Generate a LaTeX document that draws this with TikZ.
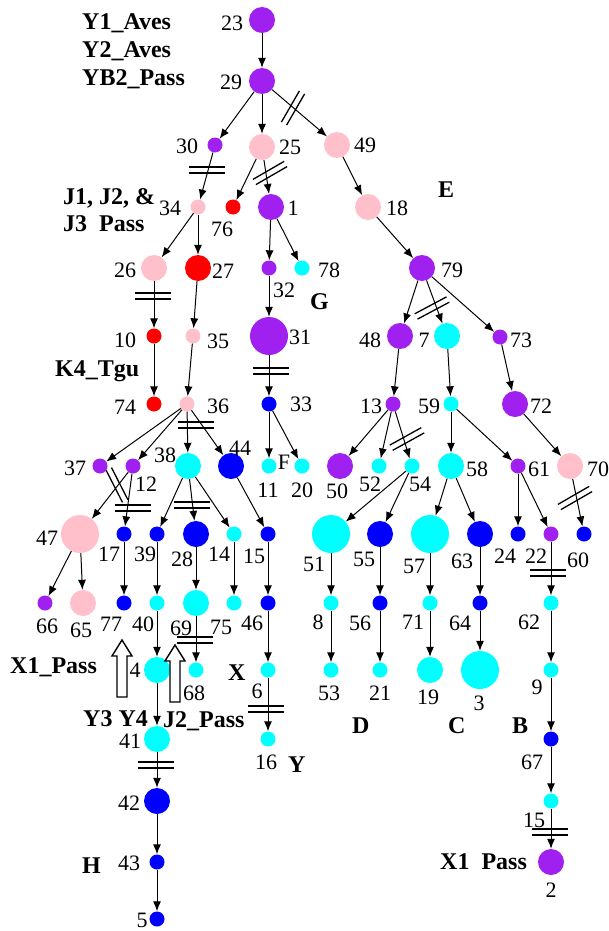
\documentclass[tikz,border=0pt]{standalone}
\usepackage{fontspec}
\setmainfont{Liberation Serif}
\usetikzlibrary{arrows.meta}
\definecolor{mypurple}{HTML}{A020F0}
\definecolor{mypink}{HTML}{FFC0CB}
\definecolor{myred}{HTML}{FF0000}
\definecolor{mycyan}{HTML}{00FFFF}
\definecolor{myblue}{HTML}{0000FF}
\newcommand{\numsize}{\fontsize{22}{24}\selectfont}
\newcommand{\tagsize}{\fontsize{24}{26}\selectfont\bfseries}
\tikzset{
	dot/.style={circle, inner sep=0pt, draw=none},
	sm/.style={dot, minimum size=15pt},
	md/.style={dot, minimum size=26pt},
	lg/.style={dot, minimum size=38pt}
}
\tikzset{
	numtext/.style={font=\numsize, inner sep=0pt},
	tagtext/.style={font=\tagsize, inner sep=0pt, anchor=base west},
	edge/.style={-{Latex[length=10pt,width=8pt]}, line width=1pt},
	barline/.style={line width=1.3pt},
	hollow/.style={line width=1.4pt, fill=white}
}
% double bar across a branch: centre x, centre y, angle
\newcommand{\dbar}[3]{%
  \begin{scope}[shift={(#1,#2)}, rotate=#3]
    \draw[barline] (-18,-3) -- (18,-3) (-18,3) -- (18,3);
  \end{scope}}

\begin{document}
\begin{tikzpicture}[x=1pt, y=-1pt]
      \useasboundingbox (0,0) rectangle (608,931);

      % vertices: name/x/y/size/colour
      \foreach \n/\x/\y/\s/\c in {
        23/262/20/md/mypurple, 29/262/81/md/mypurple,
        30/215/145/sm/mypurple, 25/262/147/md/mypink, 49/337/145/md/mypink,
        34/198/207/sm/mypink, 76/233/207/sm/myred, 1/271/207/md/mypurple, 18/368/207/md/mypink,
        26/154/268/md/mypink, 27/198/268/md/myred, 32/269/268/sm/mypurple,
        78/302/268/sm/mycyan, 79/422/268/md/mypurple,
        10/154/336/sm/myred, 35/193/336/sm/mypink, 31/269/336/lg/mypurple,
        48/400/336/md/mypurple, 7/447/336/md/mycyan, 73/500/337/sm/mypurple,
        74/154/404/sm/myred, 36/187/404/sm/mypink, 33/269/404/sm/myblue,
        13/393/404/sm/mypurple, 59/451/404/sm/mycyan, 72/515/404/md/mypurple,
        37/100/466/sm/mypurple, 12/133/466/sm/mypurple, 38/188/466/md/mycyan,
        44/231/466/md/myblue, 11/269/466/sm/mycyan, 20/302/466/sm/mycyan,
        50/340/466/md/mypurple, 52/379/466/sm/mycyan, 54/412/466/sm/mycyan,
        58/451/466/md/mycyan, 61/518/466/sm/mypurple, 70/570/466/md/mypink,
        47/80/534/lg/mypink, 17/124/534/sm/myblue, 39/157/534/sm/myblue,
        28/196/534/md/myblue, 14/234/534/sm/mycyan, 15/268/534/sm/myblue,
        51/331/534/lg/mycyan, 55/380/534/md/myblue, 57/430/534/lg/mycyan,
        63/480/534/md/myblue, 24/518/534/sm/myblue, 22/551/534/sm/mypurple,
        60/584/534/sm/myblue,
        66/45/603/sm/mypurple, 65/83/603/md/mypink, 77/124/603/sm/myblue,
        40/157/603/sm/mycyan, 69/196/603/md/mycyan, 75/234/603/sm/mycyan,
        46/268/603/sm/myblue, 8/331/603/sm/mycyan, 56/380/603/sm/myblue,
        71/430/603/sm/mycyan, 64/480/603/sm/myblue, 62/551/603/sm/mycyan,
        4/157/670/md/mycyan, 68/196/670/sm/mycyan, 6/268/670/sm/mycyan,
        53/331/670/sm/mycyan, 21/380/670/sm/mycyan, 19/430/670/md/mycyan,
        3/480/670/lg/mycyan, 9/551/670/sm/mycyan,
        41/157/739/md/mycyan, 16/268/739/sm/mycyan, 67/551/739/sm/myblue,
        42/157/801/md/myblue, 15b/551/801/sm/mycyan,
        43/157/862/sm/myblue, 2/551/862/md/mypurple, 5/157/919/sm/myblue} {
        \node[\s, fill=\c] (n\n) at (\x,\y) {};
      }

      % branches
      \foreach \a/\b in {23/29, 29/30, 29/25, 29/49, 30/34, 25/76, 25/1, 49/18,
        34/26, 34/27, 1/32, 1/78, 18/79, 26/10, 27/35, 32/31, 79/48, 79/7, 79/73,
        10/74, 35/36, 31/33, 48/13, 7/59, 73/72, 36/37, 36/12, 36/38, 36/44,
        33/11, 33/20, 13/50, 13/52, 13/54, 59/58, 59/61, 72/70, 12/47, 12/17,
        38/39, 38/28, 38/14, 44/15, 54/51, 54/55, 58/57, 58/63, 61/24, 61/22,
        70/60, 47/66, 47/65, 17/77, 39/40, 28/69, 14/75, 15/46, 51/8, 55/56,
        57/71, 63/64, 22/62, 40/4, 69/68, 46/6, 8/53, 56/21, 71/19, 64/3, 62/9,
        4/41, 6/16, 9/67, 41/42, 67/15b, 42/43, 15b/2, 43/5} {
        \draw[edge] (n\a) -- (n\b);
      }

      % double bars
      \dbar{293}{108}{60}
      \dbar{207}{170}{0}
      \dbar{270}{173}{30}
      \dbar{432}{308}{28}
      \dbar{407}{439}{29}
      \dbar{117}{485}{-63}
      \dbar{133}{508}{0}
      \dbar{196}{425}{0}
      \dbar{192}{505}{0}
      \dbar{575}{498}{30}
      \dbar{153}{296}{0}
      \dbar{271}{371}{0}
      \dbar{548}{573}{0}
      \dbar{195}{640}{0}
      \dbar{266}{709}{0}
      \dbar{156}{765}{0}
      \dbar{550}{832}{0}

      % vertex numbers
      \foreach \t/\x/\y in {23/232/23, 29/231/82, 30/187/146, 25/290/147, 49/365/145,
        34/170/208, 76/222/229, 1/293/208, 18/397/208, 26/125/270, 27/223/271,
        32/284/290, 78/329/270, 79/452/270, 10/125/340, 35/218/341, 31/300/337,
        48/370/340, 7/424/340, 73/521/340, 74/125/407, 36/218/406, 33/301/404,
        13/371/406, 59/429/406, 72/541/406, 37/75/468, 12/146/484, 38/165/455,
        44/240/448, 11/268/490, 20/302/490, 50/337/491, 52/370/484, 54/420/484,
        58/477/469, 61/539/469, 70/598/469, 47/47/538, 17/109/554, 39/145/554,
        28/182/559, 14/219/554, 15/254/556, 51/314/564, 55/364/559, 57/414/566,
        63/462/561, 24/505/556, 22/536/556, 60/578/560, 66/47/626, 65/81/630,
        77/111/624, 40/143/624, 69/181/628, 75/221/627, 46/252/623, 8/318/622,
        56/360/623, 71/413/622, 64/460/623, 62/529/622, 4/135/670, 68/194/693,
        6/257/691, 53/329/693, 21/380/693, 19/428/697, 3/479/703, 9/537/687,
        41/130/741, 16/266/762, 67/532/762, 42/129/803, 43/129/863, 5/142/920,
        2/551/890} {
        \node[numtext] (t\t) at (\x,\y) {\t};
      }
      \node[numtext] (t15b) at (534,820) {15};
      \node[numtext] (tF) at (284,462) {F};

      % clade tags
      \node[tagtext] (y1) at (82,30) {Y1\_Aves};
      \node[tagtext] (y2) at (82,58) {Y2\_Aves};
      \node[tagtext] (yb2) at (82,86) {YB2\_Pass};
      \node[tagtext] (j123) at (63,204) {J1, J2, \&};
      \node[tagtext] (j3) at (63,231) {J3~~Pass};
      \node[tagtext] (tagE) at (438,197) {E};
      \node[tagtext] (tagG) at (310,309) {G};
      \node[tagtext] (k4) at (55,376) {K4\_Tgu};
      \node[tagtext] (x1a) at (10,673) {X1\_Pass};
      \node[tagtext] (tagX) at (228,680) {X};
      \node[tagtext] (y34) at (83,726) {Y3 Y4};
      \node[tagtext] (j2) at (163,727) {J2\_Pass};
      \node[tagtext] (tagY) at (288,772) {Y};
      \node[tagtext] (tagD) at (352,733) {D};
      \node[tagtext] (tagC) at (448,733) {C};
      \node[tagtext] (tagB) at (512,733) {B};
      \node[tagtext] (tagH) at (82,873) {H};
      \node[tagtext] (x1b) at (440,869) {X1~~Pass};

      % open arrows
      \draw[hollow] (122,640) -- (132,656) -- (127,656) -- (127,697) -- (117,697)
        -- (117,656) -- (112,656) -- cycle;
      \draw[hollow] (175,645) -- (185,661) -- (180,661) -- (180,702) -- (170,702)
        -- (170,661) -- (165,661) -- cycle;
    \end{tikzpicture}
\end{document}
